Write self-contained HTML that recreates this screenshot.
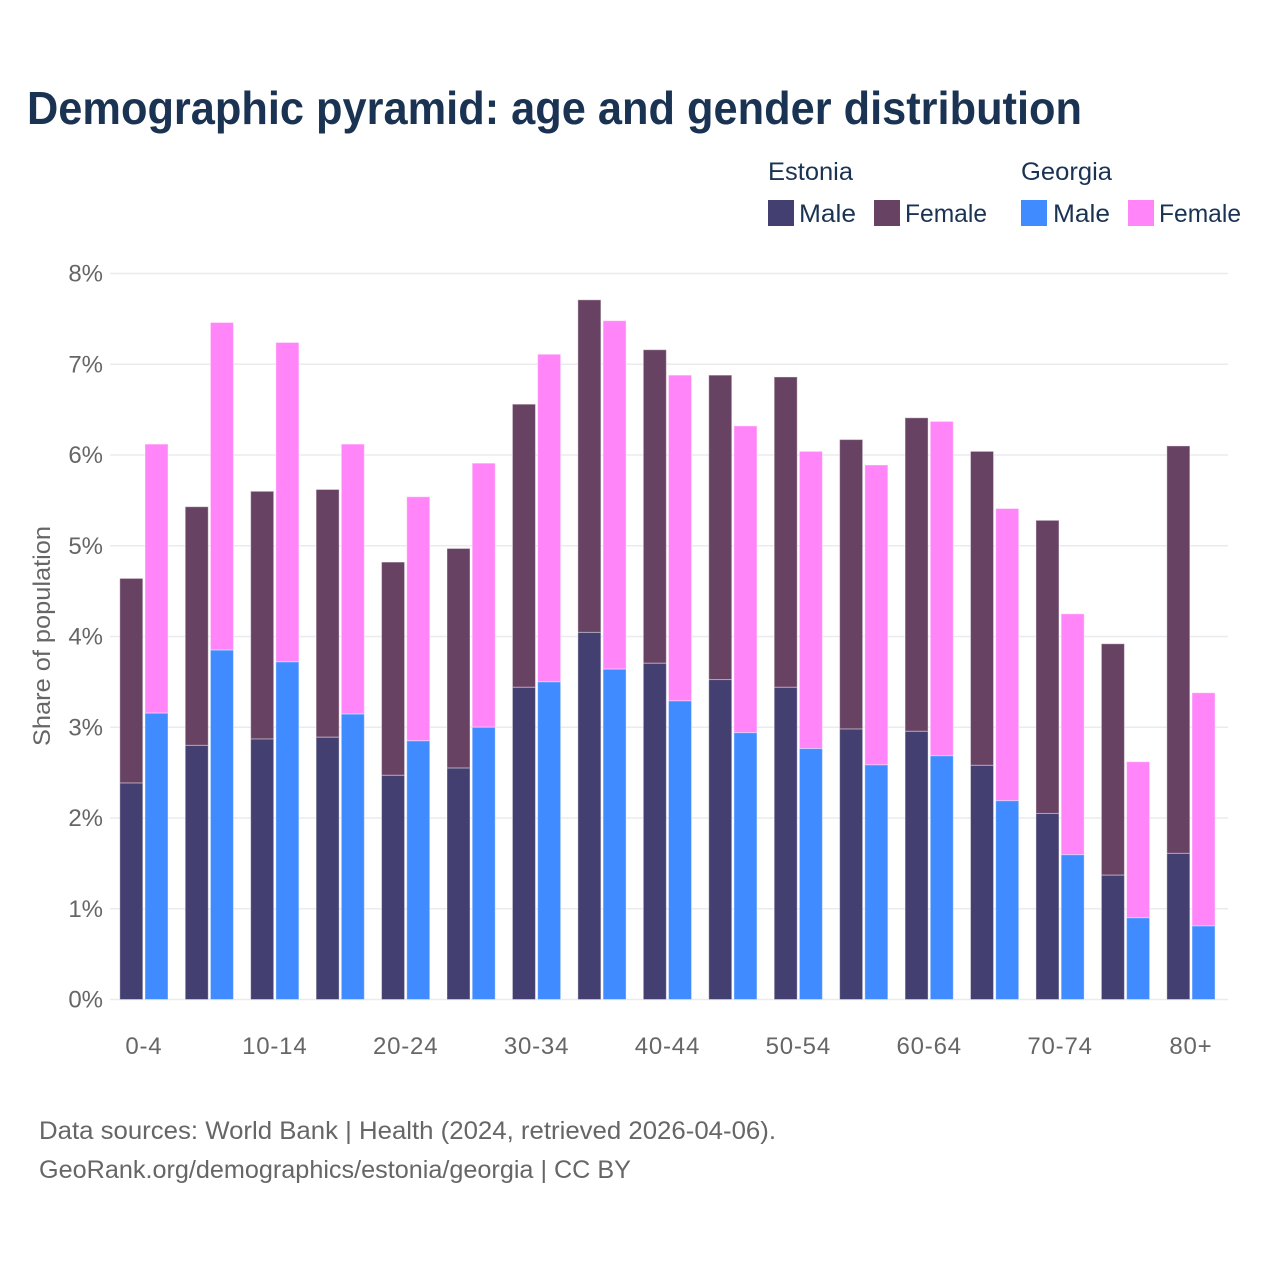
<!DOCTYPE html>
<html>
<head>
<meta charset="utf-8">
<title>Demographic pyramid</title>
<style>
html,body{margin:0;padding:0;background:#fff;}
svg{display:block;font-family:"Liberation Sans",sans-serif;}
</style>
</head>
<body>
<svg id="chart" xmlns="http://www.w3.org/2000/svg" width="1280" height="1280" viewBox="0 0 1280 1280">
  <rect width="1280" height="1280" fill="#ffffff"/>
  <text x="27" y="124" font-size="46" font-weight="700" fill="#1a3353" textLength="1055" lengthAdjust="spacingAndGlyphs">Demographic pyramid: age and gender distribution</text>

  <g font-size="25" fill="#1a3353">
    <text x="768" y="180" textLength="85" lengthAdjust="spacingAndGlyphs">Estonia</text>
    <text x="1021" y="180" textLength="91" lengthAdjust="spacingAndGlyphs">Georgia</text>
    <rect x="768" y="200" width="26" height="26" fill="#433f70"/>
    <text x="799" y="222" textLength="57" lengthAdjust="spacingAndGlyphs">Male</text>
    <rect x="874" y="200" width="26" height="26" fill="#684263"/>
    <text x="905" y="222" textLength="82" lengthAdjust="spacingAndGlyphs">Female</text>
    <rect x="1021" y="200" width="26" height="26" fill="#408bff"/>
    <text x="1053" y="222" textLength="57" lengthAdjust="spacingAndGlyphs">Male</text>
    <rect x="1128" y="200" width="26" height="26" fill="#ff85f8"/>
    <text x="1159" y="222" textLength="82" lengthAdjust="spacingAndGlyphs">Female</text>
  </g>

  <g id="grid"></g>
  <g id="bars"></g>
  <g id="yticks"></g>
  <g id="xticks"></g>

  <text transform="translate(50,636) rotate(-90)" text-anchor="middle" font-size="24" fill="#666666" textLength="220" lengthAdjust="spacingAndGlyphs">Share of population</text>

  <text x="39" y="1139" font-size="25" fill="#666666" textLength="737" lengthAdjust="spacingAndGlyphs">Data sources: World Bank | Health (2024, retrieved 2026-04-06).</text>
  <text x="39" y="1178" font-size="25" fill="#666666" textLength="592" lengthAdjust="spacingAndGlyphs">GeoRank.org/demographics/estonia/georgia | CC BY</text>
</svg>
<script>
const categories = ["0-4","5-9","10-14","15-19","20-24","25-29","30-34","35-39","40-44","45-49","50-54","55-59","60-64","65-69","70-74","75-79","80+"];
const xTickLabels = ["0-4","10-14","20-24","30-34","40-44","50-54","60-64","70-74","80+"];
const yTicks = [0,1,2,3,4,5,6,7,8];
const estoniaMale = [2.385,2.80,2.87,2.89,2.47,2.55,3.44,4.045,3.705,3.525,3.44,2.98,2.955,2.58,2.05,1.37,1.61];
const estoniaFemale = [2.255,2.63,2.73,2.73,2.35,2.42,3.12,3.665,3.455,3.355,3.42,3.19,3.455,3.46,3.23,2.55,4.49];
const georgiaMale = [3.155,3.85,3.72,3.145,2.85,3.00,3.50,3.64,3.29,2.94,2.765,2.585,2.685,2.19,1.595,0.90,0.81];
const georgiaFemale = [2.965,3.61,3.52,2.975,2.69,2.91,3.61,3.84,3.59,3.38,3.275,3.305,3.685,3.22,2.655,1.72,2.57];

const NS = "http://www.w3.org/2000/svg";
const plotLeft = 110, plotRight = 1228, yBase = 999.5, yUnit = 90.75;
const firstCenter = 143.9, step = 65.44, barW = 23.0, barOffset = 12.6;
function yScale(v){ return yBase - v * yUnit; }
function xScale(i){ return firstCenter + i * step; }

const gridG = document.getElementById("grid");
const yG = document.getElementById("yticks");
const xG = document.getElementById("xticks");
const barsG = document.getElementById("bars");

yTicks.forEach(function(t){
  const line = document.createElementNS(NS,"line");
  
  
  line.setAttribute("x1",plotLeft);
  line.setAttribute("x2",plotRight);
  line.setAttribute("y1",yScale(t));
  line.setAttribute("y2",yScale(t));
  line.setAttribute("stroke","#ebebef");
  line.setAttribute("stroke-width","1.6");
  gridG.appendChild(line);

  const label = document.createElementNS(NS,"text");
  
  
  label.setAttribute("x",103);
  label.setAttribute("y",yScale(t)+8);
  label.setAttribute("text-anchor","end");
  label.setAttribute("font-size","24");
  label.setAttribute("fill","#666666");
  label.textContent = t + "%";
  yG.appendChild(label);
});

xTickLabels.forEach(function(name){
  const i = categories.indexOf(name);
  const label = document.createElementNS(NS,"text");
  
  
  label.setAttribute("x",xScale(i));
  label.setAttribute("y",1054);
  label.setAttribute("text-anchor","middle");
  label.setAttribute("font-size","24");
  label.setAttribute("letter-spacing","0.8");
  label.setAttribute("fill","#666666");
  label.textContent = name;
  xG.appendChild(label);
});

function addBar(cx, v0, v1, color){
  const r = document.createElementNS(NS,"rect");
  
  
  r.setAttribute("x",cx - barW/2);
  r.setAttribute("width",barW);
  r.setAttribute("y",yScale(v1));
  r.setAttribute("height",yScale(v0)-yScale(v1));
  r.setAttribute("fill",color);
  r.setAttribute("stroke","#ffffff");
  r.setAttribute("stroke-opacity","0.4");
  r.setAttribute("stroke-width","1");
  barsG.appendChild(r);
}

categories.forEach(function(c,i){
  const cx = xScale(i);
  addBar(cx - barOffset, estoniaMale[i], estoniaMale[i] + estoniaFemale[i], "#684263");
  addBar(cx - barOffset, 0, estoniaMale[i], "#433f70");
  addBar(cx + barOffset, georgiaMale[i], georgiaMale[i] + georgiaFemale[i], "#ff85f8");
  addBar(cx + barOffset, 0, georgiaMale[i], "#408bff");
});
</script>
</body>
</html>
